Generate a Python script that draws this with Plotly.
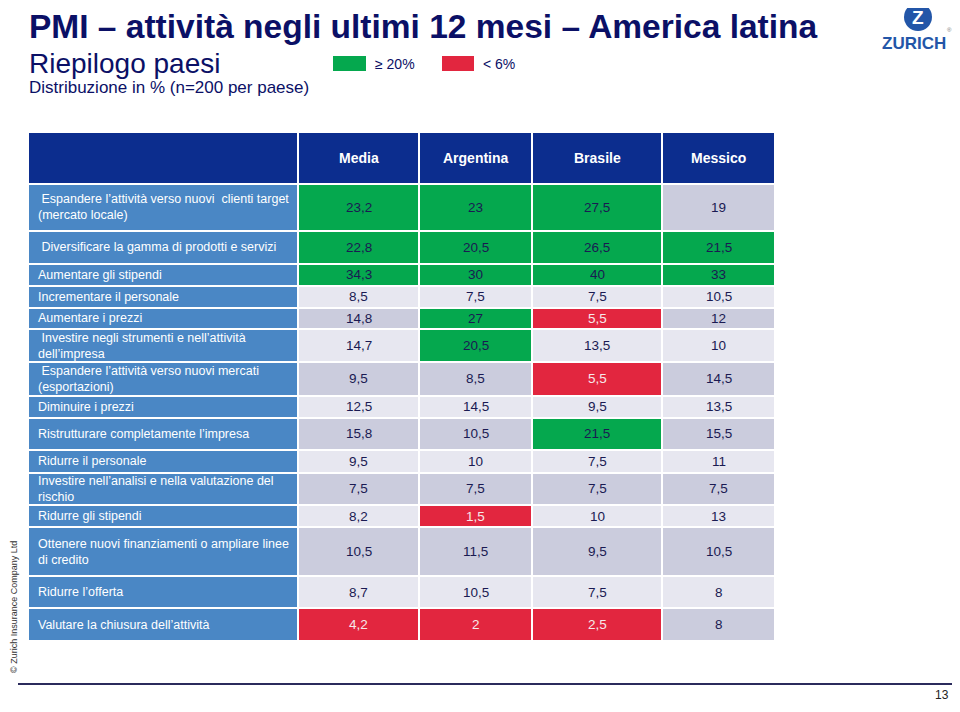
import plotly.graph_objects as go

# ---------------- data ----------------
title = "PMI – attività negli ultimi 12 mesi – America latina"
subtitle = "Riepilogo paesi"
note = "Distribuzione in % (n=200 per paese)"

columns = ["Media", "Argentina", "Brasile", "Messico"]
actions = [
    "\u00a0Espandere l’attività verso nuovi\u00a0 clienti target<br>(mercato locale)",
    "\u00a0Diversificare la gamma di prodotti e servizi",
    "Aumentare gli stipendi",
    "Incrementare il personale",
    "Aumentare i prezzi",
    "\u00a0Investire negli strumenti e nell’attività<br>dell’impresa",
    "\u00a0Espandere l’attività verso nuovi mercati<br>(esportazioni)",
    "Diminuire i prezzi",
    "Ristrutturare completamente l’impresa",
    "Ridurre il personale",
    "Investire nell’analisi e nella valutazione del<br>rischio",
    "Ridurre gli stipendi",
    "Ottenere nuovi finanziamenti o ampliare linee<br>di credito",
    "Ridurre l’offerta",
    "Valutare la chiusura dell’attività",
]
media = [23.2, 22.8, 34.3, 8.5, 14.8, 14.7, 9.5, 12.5, 15.8, 9.5, 7.5, 8.2, 10.5, 8.7, 4.2]
argentina = [23, 20.5, 30, 7.5, 27, 20.5, 8.5, 14.5, 10.5, 10, 7.5, 1.5, 11.5, 10.5, 2]
brasile = [27.5, 26.5, 40, 7.5, 5.5, 13.5, 5.5, 9.5, 21.5, 7.5, 7.5, 10, 9.5, 7.5, 2.5]
messico = [19, 21.5, 33, 10.5, 12, 10, 14.5, 13.5, 15.5, 11, 7.5, 13, 10.5, 8, 8]

high_threshold = 20
low_threshold = 6
legend_labels = ["≥ 20%", "< 6%"]
copyright_text = "© Zurich Insurance Company Ltd"
page_number = "13"

# ---------------- layout / style ----------------
OFF = 8                      # page body margin of the html page
W, H = 960 - 2 * OFF, 712 - 2 * OFF
FONT = "Liberation Sans, Arial, sans-serif"
NAVY_TITLE = "#0B1066"
HEADER_BG = "#0C2D8E"
LABEL_BG = "#4A87C5"
DARK_ROW = "#CBCCDD"
LIGHT_ROW = "#E7E7F0"
GREEN = "#05A84E"
RED = "#E2263F"
VALUE_TXT = "#1A1A52"
LOGO_BLUE = "#2356A8"

col_widths = [270, 121, 113, 130, 113]            # label col + 4 value cols (px)
row_heights = [52, 47, 33, 21.5, 22, 21.5, 33, 33.5, 22, 32.5, 22.5, 32.5, 22, 49, 32, 33]
table_left, table_top = 28, 132

x_edges = [0]
for w in col_widths:
    x_edges.append(x_edges[-1] + w)
y_edges = [0]
for h in row_heights:
    y_edges.append(y_edges[-1] + h)
table_w, table_h = x_edges[-1], y_edges[-1]

series = [media, argentina, brasile, messico]

# category codes: 0 dark, 1 light, 2 green, 3 red, 4 label, 5 header
def cell_code(v, r):
    if v >= high_threshold:
        return 2
    if v < low_threshold:
        return 3
    return 0 if r % 2 == 0 else 1

z = [[5] * (len(columns) + 1)]
for r in range(len(actions)):
    z.append([4] + [cell_code(s[r], r) for s in series])

cats = [DARK_ROW, LIGHT_ROW, GREEN, RED, LABEL_BG, HEADER_BG]
colorscale = []
n = len(cats)
for i, c in enumerate(cats):
    colorscale.append([i / n, c])
    colorscale.append([(i + 1) / n, c])

fig = go.Figure()
fig.add_trace(go.Heatmap(
    x=x_edges, y=y_edges, z=z,
    colorscale=colorscale, zmin=-0.5, zmax=n - 0.5,
    showscale=False, xgap=2, ygap=2, hoverinfo="skip",
))

def fmt(v):
    return f"{v:g}".replace(".", ",")

ann = []
# header
for j, c in enumerate(columns):
    ann.append(dict(x=(x_edges[j + 1] + x_edges[j + 2]) / 2, y=(y_edges[0] + y_edges[1]) / 2,
                    xref="x", yref="y", text=f"<b>{c}</b>", showarrow=False,
                    font=dict(family=FONT, size=14, color="white")))
# rows
for r, a in enumerate(actions):
    yc = (y_edges[r + 1] + y_edges[r + 2]) / 2
    ann.append(dict(x=x_edges[0], y=yc, xref="x", yref="y", xanchor="left", xshift=8,
                    align="left", text=a, showarrow=False,
                    font=dict(family=FONT, size=12.5, color="white")))
    for j, s in enumerate(series):
        v = s[r]
        col = "#F6E8EA" if v < low_threshold else VALUE_TXT
        ann.append(dict(x=(x_edges[j + 1] + x_edges[j + 2]) / 2, y=yc, xref="x", yref="y",
                        text=fmt(v), showarrow=False,
                        font=dict(family=FONT, size=13.5, color=col)))

def px(xp):
    return (xp - OFF) / W

def py(yp):
    return 1 - (yp - OFF) / H

# titles
ann.append(dict(x=px(27), y=py(27), xref="paper", yref="paper", xanchor="left", yanchor="middle",
                text=f"<b>{title}</b>", showarrow=False,
                font=dict(family=FONT, size=33.5, color=NAVY_TITLE)))
ann.append(dict(x=px(27), y=py(63), xref="paper", yref="paper", xanchor="left", yanchor="middle",
                text=subtitle, showarrow=False,
                font=dict(family=FONT, size=28, color=NAVY_TITLE)))
ann.append(dict(x=px(27), y=py(87), xref="paper", yref="paper", xanchor="left", yanchor="middle",
                text=note, showarrow=False,
                font=dict(family=FONT, size=17, color=NAVY_TITLE)))
# legend texts
ann.append(dict(x=px(373), y=py(64), xref="paper", yref="paper", xanchor="left", yanchor="middle",
                text=legend_labels[0], showarrow=False,
                font=dict(family=FONT, size=14, color=NAVY_TITLE)))
ann.append(dict(x=px(481), y=py(64), xref="paper", yref="paper", xanchor="left", yanchor="middle",
                text=legend_labels[1], showarrow=False,
                font=dict(family=FONT, size=14, color=NAVY_TITLE)))
# logo
ann.append(dict(x=px(918), y=py(17), xref="paper", yref="paper", xanchor="center", yanchor="middle",
                text="<b>Z</b>", showarrow=False,
                font=dict(family=FONT, size=19, color="white")))
ann.append(dict(x=px(914), y=py(43), xref="paper", yref="paper", xanchor="center", yanchor="middle",
                text="<b>ZURICH</b>", showarrow=False,
                font=dict(family=FONT, size=17, color=LOGO_BLUE)))
ann.append(dict(x=px(949), y=py(30), xref="paper", yref="paper", xanchor="center", yanchor="middle",
                text="®", showarrow=False,
                font=dict(family=FONT, size=6, color="#777")))
# copyright vertical
ann.append(dict(x=px(14), y=py(607), xref="paper", yref="paper", xanchor="center", yanchor="middle",
                text=copyright_text, textangle=-90, showarrow=False,
                font=dict(family=FONT, size=9, color="#333")))
# page number
ann.append(dict(x=px(951), y=py(695), xref="paper", yref="paper", xanchor="right", yanchor="middle",
                text=page_number, showarrow=False,
                font=dict(family=FONT, size=12, color="#222")))

shapes = [
    dict(type="rect", xref="paper", yref="paper", x0=px(333), x1=px(366), y0=py(71), y1=py(56),
         fillcolor=GREEN, line=dict(width=0)),
    dict(type="rect", xref="paper", yref="paper", x0=px(442), x1=px(474), y0=py(71), y1=py(56),
         fillcolor=RED, line=dict(width=0)),
    dict(type="circle", xref="paper", yref="paper", x0=px(904), x1=px(932), y0=py(31), y1=py(3),
         fillcolor=LOGO_BLUE, line=dict(width=0)),
    dict(type="line", xref="paper", yref="paper", x0=px(18), x1=px(952), y0=py(684), y1=py(684),
         line=dict(color="#2B2B5C", width=2)),
]

fig.update_layout(
    width=W, height=H, margin=dict(l=0, r=0, t=0, b=0),
    paper_bgcolor="white", plot_bgcolor="white",
    xaxis=dict(domain=[px(table_left), px(table_left + table_w)], range=[0, table_w],
               visible=False, fixedrange=True),
    yaxis=dict(domain=[py(table_top + table_h), py(table_top)], range=[table_h, 0],
               visible=False, fixedrange=True),
    annotations=ann, shapes=shapes, showlegend=False,
)

fig.write_html("out.html")
